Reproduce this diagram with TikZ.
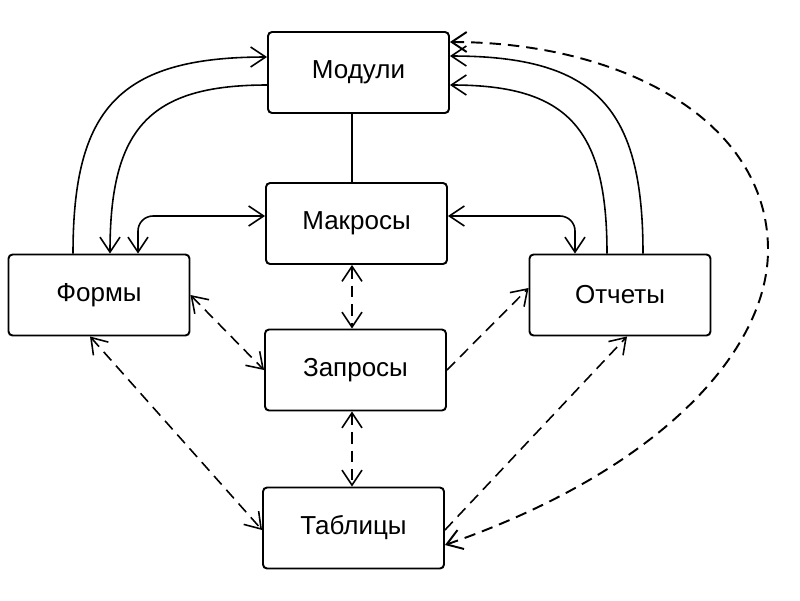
\documentclass[tikz,border=0pt]{standalone}
\usepackage{fontspec}
\setmainfont{Liberation Sans}
\usetikzlibrary{arrows.meta}

\begin{document}
\begin{tikzpicture}[x=0.02cm,y=-0.02cm]
\tikzset{dbbox/.style={rectangle,draw,line width=1.1pt,rounded corners=0.08cm,minimum width=3.62cm,minimum height=1.62cm,font=\fontsize{14.8}{17}\selectfont}}
\tikzset{link/.style={line width=0.9pt,>={Straight Barb[length=0.3cm,width=0.4cm]}}}
\tikzset{dlink/.style={link,dash pattern=on 6.5pt off 4pt}}
\useasboundingbox (0,0) rectangle (800,600);
\node[dbbox](mod) at (358.5,72.5){Модули};
\node[dbbox](mak) at (356.5,223.5){Макросы};
\node[dbbox](form) at (99,295){Формы};
\node[dbbox](otch) at (620,295){Отчеты};
\node[dbbox](zap) at (355.5,370){Запросы};
\node[dbbox](tab) at (353.5,528){Таблицы};
\coordinate (axis) at (352,0);
\coordinate (bend) at (768,250);
% solid links
\draw[link] (mod.south -| axis) -- (mak.north -| axis);
\draw[link,->] ([xshift=-0.52cm]form.north) .. controls +(0,-145) and +(-148,0) .. ([yshift=0.31cm]mod.west);
\draw[link,->] ([yshift=-0.25cm]mod.west) .. controls +(-118,0) and +(0,-125) .. ([xshift=0.22cm]form.north);
\draw[link,<->,rounded corners=0.3cm] ([yshift=0.15cm]mak.west) -| ([xshift=0.78cm]form.north);
\draw[link,->] ([xshift=0.46cm]otch.north) .. controls +(0,-145) and +(147,0) .. ([yshift=0.33cm]mod.east);
\draw[link,->] ([xshift=-0.26cm]otch.north) .. controls +(0,-125) and +(118,0) .. ([yshift=-0.25cm]mod.east);
\draw[link,<->,rounded corners=0.3cm] ([yshift=0.15cm]mak.east) -| ([xshift=-0.9cm]otch.north);
% dashed links
\draw[dlink,<->] (mak.south -| axis) -- (zap.north -| axis);
\draw[dlink,<->] (zap.south -| axis) -- (tab.north -| axis);
\draw[dlink,<->] (form.east) -- (zap.west);
\draw[dlink,<->] ([xshift=-0.18cm]form.south) -- ([yshift=-0.04cm]tab.west);
\draw[dlink,->] (zap.east) -- ([yshift=0.14cm]otch.west);
\draw[dlink,->] ([yshift=-0.04cm]tab.east) -- ([xshift=0.14cm]otch.south);
\draw[dlink,<->,line width=1.1pt] ([yshift=0.61cm]mod.east) .. controls +(171,0) and +(0,-130) .. (bend) .. controls +(0,100) and +(216,-75) .. ([yshift=-0.34cm]tab.east);
\end{tikzpicture}
\end{document}
